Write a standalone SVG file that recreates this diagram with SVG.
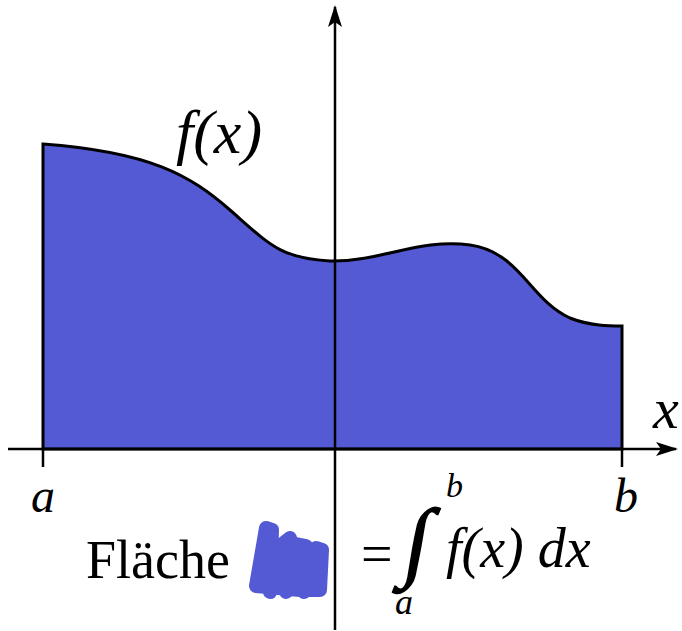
<svg xmlns="http://www.w3.org/2000/svg" width="682" height="631" viewBox="0 0 682 631">
<style>
.it{font-family:"Liberation Serif","Times New Roman",serif;font-style:italic;fill:#000}
.rm{font-family:"Liberation Serif","Times New Roman",serif;fill:#000}
.ax{stroke:#000;stroke-width:2.5;fill:none}
.blob{fill:#5459D4;stroke:#5459D4;stroke-width:14;stroke-linecap:round;stroke-linejoin:round}
</style>
<defs>
<marker id="arr" viewBox="0 0 22 14" refX="20" refY="7" markerWidth="22" markerHeight="14" markerUnits="userSpaceOnUse" orient="auto">
<path d="M0,0 L22,7 L0,14 L5,7 Z" fill="#000"/>
</marker>
</defs>
<g id="area">
<path d="M43,449 L43,144 C150,152 190,175 230,210 S280,258 330,261 C380,262 420,238 470,245 C520,252 530,300 570,318 C590,326 610,326 622,326 L622,449 Z" fill="#5459D4" stroke="#000" stroke-width="3"/>
</g>
<g id="connectors">
<line class="ax" x1="8" y1="449" x2="676" y2="449" marker-end="url(#arr)"/>
<line class="ax" x1="335" y1="630" x2="335" y2="7" marker-end="url(#arr)"/>
<line class="ax" x1="43" y1="449" x2="43" y2="467"/>
<line class="ax" x1="622" y1="449" x2="622" y2="467"/>
</g>
<g id="labels">
<text class="it" x="176" y="153" font-size="62">f(x)</text>
<text class="it" x="653" y="428" font-size="58">x</text>
<text class="it" x="31" y="512" font-size="48">a</text>
<text class="it" x="614" y="512" font-size="48">b</text>
</g>
<g id="formula">
<text class="rm" x="86" y="578" font-size="54">Fläche</text>
<path class="blob" d="M256,586 L266,528 L272,530 L270,592 L280,546 L290,538 L286,592 L296,544 L306,546 L304,592 L316,548 L322,550 L320,590 L300,590 Z"/>
<text class="rm" x="361" y="573" font-size="56">=</text>
<text class="it" transform="translate(401,570) skewX(-10)" x="0" y="0" font-size="88" stroke="#000" stroke-width="1.5">∫</text>
<text class="it" x="446" y="497" font-size="34">b</text>
<text class="it" x="395" y="614" font-size="36">a</text>
<text class="it" x="446" y="567" font-size="56">f(x) dx</text>
</g>
</svg>
